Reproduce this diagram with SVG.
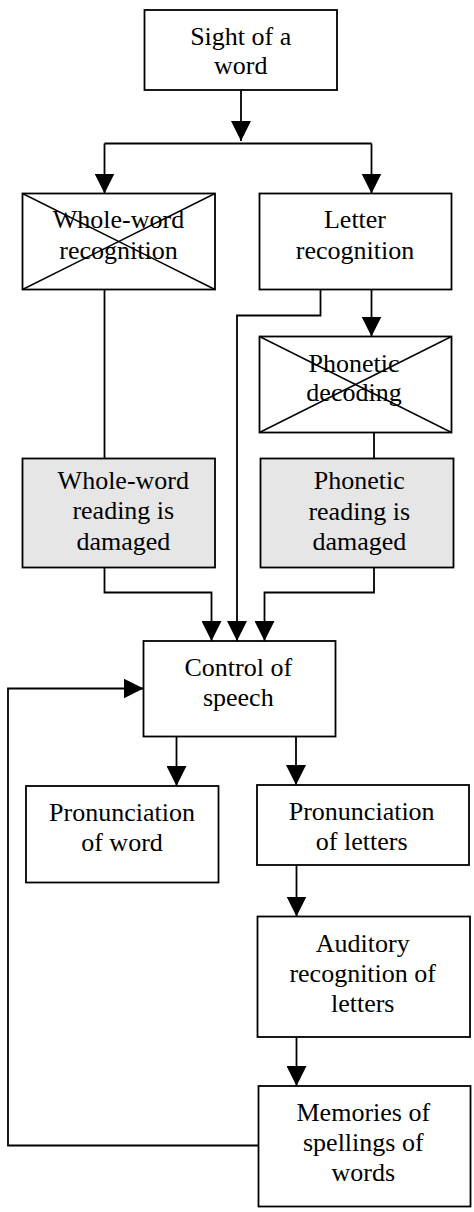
<svg xmlns="http://www.w3.org/2000/svg" width="474" height="1212" viewBox="0 0 474 1212">
  <style>
    .box { fill: #ffffff; stroke: #000000; stroke-width: 1.8; }
    .shaded { fill: #e6e6e6; }
    .cross { stroke: #000000; stroke-width: 1.4; }
    .label { font-family: "Liberation Serif", "Times New Roman", serif; font-size: 26px; fill: #000000; text-anchor: middle; }
    .wire { fill: none; stroke: #000000; stroke-width: 1.8; }
    .arrow { fill: none; stroke: #000000; stroke-width: 1.8; marker-end: url(#head); }
  </style>
  <defs>
    <marker id="head" markerUnits="userSpaceOnUse" markerWidth="20" markerHeight="20" refX="20" refY="10" orient="auto" viewBox="0 0 20 20">
      <path d="M0,0 L20,10 L0,20 Z" fill="#000000"/>
    </marker>
  </defs>

  <rect width="474" height="1212" fill="#ffffff"/>

  <!-- connectors -->
  <g id="connectors">
    <path class="arrow" d="M241,90 V141"/>
    <path class="wire" d="M104.5,143.5 H371.5"/>
    <path class="arrow" d="M104.5,143.5 V193.5"/>
    <path class="arrow" d="M371.5,143.5 V193.5"/>
    <path class="wire" d="M104.5,289.5 V458.5"/>
    <path class="arrow" d="M320.5,289.5 V315.5 H237 V641"/>
    <path class="arrow" d="M371.5,289.5 V336.5"/>
    <path class="wire" d="M374,432.5 V458.5"/>
    <path class="arrow" d="M104.5,567.5 V592.5 H211.5 V641"/>
    <path class="arrow" d="M374,567.5 V592.5 H264.5 V641"/>
    <path class="arrow" d="M176.5,736.5 V786"/>
    <path class="arrow" d="M296,736.5 V785"/>
    <path class="arrow" d="M296.5,865 V916.5"/>
    <path class="arrow" d="M296.5,1037 V1086"/>
    <path class="arrow" d="M258.5,1145.5 H8 V688.5 H143.5"/>
  </g>

  <g id="sight">
    <rect class="box" x="144.5" y="10" width="192.5" height="80"/>
    <text class="label" x="240.7" y="45">Sight of a</text>
    <text class="label" x="240.7" y="74">word</text>
  </g>

  <g id="whole-word-recognition">
    <rect class="box" x="22.5" y="193.5" width="192.5" height="96"/>
    <text class="label" x="118.5" y="228">Whole-word</text>
    <text class="label" x="118.5" y="259">recognition</text>
    <line class="cross" x1="22.5" y1="193.5" x2="215" y2="289.5"/>
    <line class="cross" x1="22.5" y1="289.5" x2="215" y2="193.5"/>
  </g>

  <g id="letter-recognition">
    <rect class="box" x="259.5" y="193.5" width="192" height="96"/>
    <text class="label" x="355" y="228">Letter</text>
    <text class="label" x="355" y="259">recognition</text>
  </g>

  <g id="phonetic-decoding">
    <rect class="box" x="259.5" y="336.5" width="192" height="96"/>
    <text class="label" x="354" y="371.5">Phonetic</text>
    <text class="label" x="354" y="400.5">decoding</text>
    <line class="cross" x1="259.5" y1="336.5" x2="451.5" y2="432.5"/>
    <line class="cross" x1="259.5" y1="432.5" x2="451.5" y2="336.5"/>
  </g>

  <g id="whole-word-damaged">
    <rect class="box shaded" x="22.5" y="458.5" width="192.5" height="109"/>
    <text class="label" x="123.3" y="488.5">Whole-word</text>
    <text class="label" x="123.3" y="519">reading is</text>
    <text class="label" x="123.3" y="549.5">damaged</text>
  </g>

  <g id="phonetic-damaged">
    <rect class="box shaded" x="260.5" y="458.5" width="193" height="109"/>
    <text class="label" x="359.3" y="489">Phonetic</text>
    <text class="label" x="359.3" y="519.5">reading is</text>
    <text class="label" x="359.3" y="550">damaged</text>
  </g>

  <g id="control-of-speech">
    <rect class="box" x="143.5" y="641" width="192" height="95.5"/>
    <text class="label" x="238.3" y="676">Control of</text>
    <text class="label" x="238.3" y="706">speech</text>
  </g>

  <g id="pronunciation-word">
    <rect class="box" x="26" y="786" width="192.5" height="96.5"/>
    <text class="label" x="122" y="820.5">Pronunciation</text>
    <text class="label" x="122" y="850.5">of word</text>
  </g>

  <g id="pronunciation-letters">
    <rect class="box" x="257" y="785" width="212" height="80"/>
    <text class="label" x="361.7" y="820">Pronunciation</text>
    <text class="label" x="361.7" y="850">of letters</text>
  </g>

  <g id="auditory-recognition">
    <rect class="box" x="257.5" y="916.5" width="212.5" height="120.5"/>
    <text class="label" x="362.7" y="951.7">Auditory</text>
    <text class="label" x="362.7" y="981.7">recognition of</text>
    <text class="label" x="362.7" y="1012">letters</text>
  </g>

  <g id="spelling-memories">
    <rect class="box" x="258.5" y="1086" width="212" height="120.5"/>
    <text class="label" x="363.3" y="1120.7">Memories of</text>
    <text class="label" x="363.3" y="1150.5">spellings of</text>
    <text class="label" x="363.3" y="1180.7">words</text>
  </g>
</svg>
